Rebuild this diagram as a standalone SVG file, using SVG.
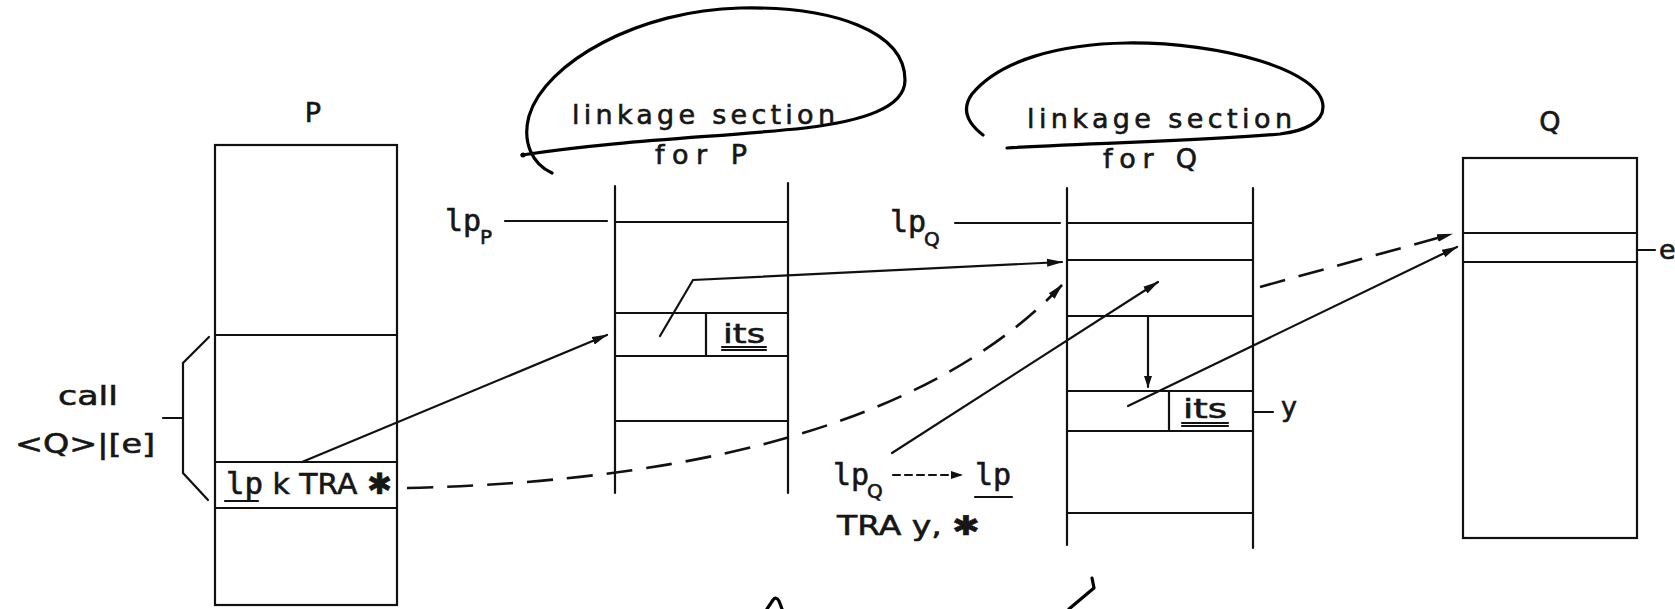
<svg xmlns="http://www.w3.org/2000/svg" width="1675" height="609" viewBox="0 0 1675 609">
<style>
.ln{stroke:#111;stroke-width:2.2;fill:none;stroke-linecap:round}
.dash{stroke:#111;stroke-width:2.6;fill:none;stroke-dasharray:26 14}
.hand{stroke:#000;stroke-width:3.2;fill:none;stroke-linecap:round;stroke-linejoin:round}
text{font-family:"DejaVu Sans","Liberation Sans",sans-serif;fill:#161616;stroke:#161616;stroke-width:0.6}
.t{font-size:27px}
.m{font-family:"DejaVu Sans Mono","Liberation Mono",monospace;font-size:30px}
.s{font-size:20px}
</style>
<defs>
<marker id="ah" markerUnits="userSpaceOnUse" markerWidth="16" markerHeight="10" refX="15" refY="5" orient="auto">
<path d="M0,1 L16,5 L0,9 z" fill="#111"/>
</marker>
<marker id="ahs" markerUnits="userSpaceOnUse" markerWidth="12" markerHeight="10" refX="11" refY="5" orient="auto">
<path d="M0,1 L12,5 L0,9 z" fill="#111"/>
</marker>
</defs>

<g id="nodeP">
<text class="t" x="313" y="122" text-anchor="middle" font-size="28">P</text>
<rect class="ln" x="215" y="145" width="182" height="460"/>
<line class="ln" x1="215" y1="335" x2="397" y2="335"/>
<line class="ln" x1="215" y1="462" x2="397" y2="462"/>
<line class="ln" x1="215" y1="508" x2="397" y2="508"/>
<text x="226" y="494" font-size="29" textLength="166" lengthAdjust="spacingAndGlyphs"><tspan class="m" font-size="29">lp</tspan> k TRA ✱</text>
<line class="ln" x1="225" y1="501" x2="258" y2="501"/>
</g>

<g id="callLabel">
<text class="t" x="58" y="405" textLength="60" lengthAdjust="spacingAndGlyphs">call</text>
<text class="t" x="15" y="453" font-size="30" textLength="140" lengthAdjust="spacingAndGlyphs">&lt;Q&gt;|[e]</text>
<path class="ln" d="M209,337 L183,363 L183,473 L208,500 M163,418 L183,418"/>
</g>

<g id="linkageP">
<path class="hand" d="M552,173 C532,164 522,142 529,116 C545,62 640,10 740,8 C835,6 905,32 905,80 C905,108 862,121 805,128 C720,137 620,140 522,155"/>
<circle cx="523" cy="155" r="2.5" fill="#000"/>
<text class="t" x="572" y="124" textLength="263" lengthAdjust="spacing">linkage section</text>
<text class="t" x="655" y="164" textLength="92" lengthAdjust="spacing">for P</text>
<text class="m" x="445" y="231">lp</text>
<text class="s" x="480" y="244">P</text>
<line class="ln" x1="505" y1="221" x2="607" y2="221"/>
<line class="ln" x1="615" y1="186" x2="615" y2="493"/>
<line class="ln" x1="788" y1="183" x2="788" y2="493"/>
<line class="ln" x1="615" y1="222" x2="788" y2="222"/>
<line class="ln" x1="615" y1="313" x2="788" y2="313"/>
<line class="ln" x1="615" y1="356" x2="788" y2="356"/>
<line class="ln" x1="615" y1="421" x2="788" y2="421"/>
<line class="ln" x1="706" y1="313" x2="706" y2="356"/>
<text class="t" x="723" y="343" textLength="42" lengthAdjust="spacingAndGlyphs">its</text>
<line class="ln" x1="722" y1="347" x2="766" y2="347" stroke-width="1.5"/>
<line class="ln" x1="722" y1="350" x2="766" y2="350" stroke-width="1.5"/>
</g>

<g id="linkageQ">
<path class="hand" d="M983,135 C966,122 962,108 972,94 C1000,60 1060,44 1127,43 C1220,42 1323,70 1323,107 C1323,122 1305,131 1280,134 C1190,142 1100,142 1007,148"/>
<text class="t" x="1027" y="128" textLength="265" lengthAdjust="spacing">linkage section</text>
<text class="t" x="1103" y="168" textLength="94" lengthAdjust="spacing">for Q</text>
<text class="m" x="890" y="232">lp</text>
<text class="s" x="924" y="246">Q</text>
<line class="ln" x1="955" y1="223" x2="1060" y2="223"/>
<line class="ln" x1="1067" y1="188" x2="1067" y2="545"/>
<line class="ln" x1="1253" y1="188" x2="1253" y2="548"/>
<line class="ln" x1="1067" y1="223" x2="1253" y2="223"/>
<line class="ln" x1="1067" y1="260" x2="1253" y2="260"/>
<line class="ln" x1="1067" y1="316" x2="1253" y2="316"/>
<line class="ln" x1="1067" y1="391" x2="1253" y2="391"/>
<line class="ln" x1="1067" y1="431" x2="1253" y2="431"/>
<line class="ln" x1="1067" y1="513" x2="1253" y2="513"/>
<line class="ln" x1="1169" y1="391" x2="1169" y2="431"/>
<text class="t" x="1183" y="418" textLength="44" lengthAdjust="spacingAndGlyphs">its</text>
<line class="ln" x1="1182" y1="423" x2="1228" y2="423" stroke-width="1.5"/>
<line class="ln" x1="1182" y1="426" x2="1228" y2="426" stroke-width="1.5"/>
<line class="ln" x1="1253" y1="412" x2="1273" y2="412"/>
<text class="t" x="1281" y="416">y</text>
</g>

<g id="codeLabel">
<text class="m" x="833" y="485">lp</text>
<text class="s" x="867" y="498">Q</text>
<text class="m" x="975" y="485">lp</text>
<line class="ln" x1="975" y1="497" x2="1012" y2="497"/>
<text class="t" x="837" y="535" textLength="143" lengthAdjust="spacingAndGlyphs">TRA y, ✱</text>
</g>

<g id="nodeQ">
<text class="t" x="1550" y="131" text-anchor="middle" font-size="28">Q</text>
<rect class="ln" x="1463" y="158" width="174" height="380"/>
<line class="ln" x1="1463" y1="233" x2="1637" y2="233"/>
<line class="ln" x1="1463" y1="262" x2="1637" y2="262"/>
<line class="ln" x1="1637" y1="250" x2="1655" y2="250"/>
<text class="t" x="1659" y="259" font-size="22">e</text>
</g>

<g id="connectors">
<line class="ln" x1="302" y1="462" x2="607" y2="335" stroke-width="2.5" marker-end="url(#ah)"/>
<polyline class="ln" points="660,336 693,280 1062,262" stroke-width="2.5" marker-end="url(#ah)"/>
<path class="dash" d="M407,488 Q880,477 1062,285" marker-end="url(#ah)"/>
<line class="ln" x1="892" y1="453" x2="1158" y2="282" stroke-width="2.5" marker-end="url(#ah)"/>
<line class="ln" x1="1148" y1="316" x2="1148" y2="387" marker-end="url(#ahs)"/>
<line class="ln" x1="1128" y1="406" x2="1457" y2="247" stroke-width="2.5" marker-end="url(#ah)"/>
<line class="dash" x1="1260" y1="287" x2="1452" y2="234" marker-end="url(#ah)"/>
<line class="ln" x1="893" y1="475" x2="962" y2="475" stroke-dasharray="7 5" marker-end="url(#ahs)"/>
</g>

<g id="marks">
<path class="hand" d="M767,609 L773,600 Q776,596 779,601 L782,609"/>
<path class="hand" d="M1092,578 L1094,588 L1069,609"/>
</g>
</svg>
